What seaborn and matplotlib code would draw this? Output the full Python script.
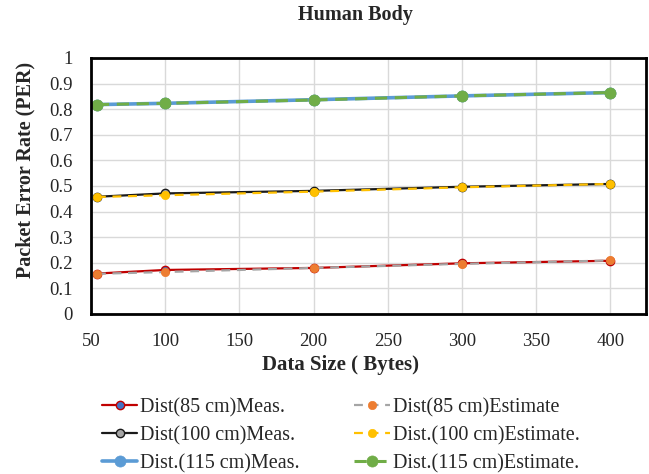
import matplotlib
matplotlib.use("Agg")
import matplotlib.pyplot as plt
import seaborn as sns
import pandas as pd

sns.set_theme(style="white")
plt.rcParams['font.family'] = ['Liberation Serif', 'DejaVu Serif']

data_size = [54, 100, 200, 300, 400]
meas_85 = [0.158, 0.172, 0.180, 0.198, 0.208]
est_85 = [0.157, 0.164, 0.180, 0.196, 0.209]
meas_100 = [0.458, 0.471, 0.481, 0.497, 0.508]
est_100 = [0.457, 0.464, 0.478, 0.495, 0.508]
meas_115 = [0.818, 0.823, 0.837, 0.852, 0.865]
est_115 = [0.818, 0.823, 0.836, 0.852, 0.865]

labels = ["Dist(85 cm)Meas.", "Dist(85 cm)Estimate",
          "Dist(100 cm)Meas.", "Dist.(100 cm)Estimate.",
          "Dist.(115 cm)Meas.", "Dist.(115 cm)Estimate."]
x_ticks = [50, 100, 150, 200, 250, 300, 350, 400]
y_ticks = [0, 0.1, 0.2, 0.3, 0.4, 0.5, 0.6, 0.7, 0.8, 0.9, 1]

series = [meas_85, est_85, meas_100, est_100, meas_115, est_115]
styles = [
    dict(color="#C00000", linestyle="-", lw=1.6, mfc="#4472C4", mec="#C00000", ms=6, mew=1.0),
    dict(color="#A5A5A5", linestyle=(0, (4, 3)), lw=1.6, mfc="#ED7D31", mec="#ED7D31", ms=6, mew=0.5),
    dict(color="#1a1a1a", linestyle="-", lw=1.6, mfc="#A5A5A5", mec="#1a1a1a", ms=6, mew=1.0),
    dict(color="#FFC000", linestyle=(0, (4, 3)), lw=1.6, mfc="#FFC000", mec="#FFC000", ms=6, mew=0.5),
    dict(color="#5B9BD5", linestyle="-", lw=2.6, mfc="#5B9BD5", mec="#5B9BD5", ms=8, mew=0.5),
    dict(color="#70AD47", linestyle=(0, (4, 2.5)), lw=2.2, mfc="#70AD47", mec="#70AD47", ms=8, mew=0.5),
]

fig = plt.figure(figsize=(6.49, 4.74), dpi=100)
ax = fig.add_axes([91/649, 1 - 314/474, 555/649, 256/474])

for vals, lab, st in zip(series, labels, styles):
    df = pd.DataFrame({"x": data_size, "y": vals})
    sns.lineplot(data=df, x="x", y="y", ax=ax, color=st["color"], linestyle=st["linestyle"],
                 linewidth=st["lw"], marker="o", markersize=st["ms"],
                 markerfacecolor=st["mfc"], markeredgecolor=st["mec"], markeredgewidth=st["mew"],
                 label=lab)

ax.set_xlim(50, 424)
ax.set_ylim(0, 1)
ax.set_xticks(x_ticks)
ax.set_yticks(y_ticks)
ax.set_xticklabels([str(t) for t in x_ticks], fontsize=13.5)
ax.set_yticklabels(["0" if t == 0 else ("1" if t == 1 else f"{t:.1f}") for t in y_ticks], fontsize=13.5)
ax.grid(True, color="#d9d9d9", linewidth=1.0)
ax.set_axisbelow(True)
for sp in ax.spines.values():
    sp.set_color("black")
    sp.set_linewidth(2.0)
ax.tick_params(axis="x", length=0, pad=14)
ax.tick_params(axis="y", length=0, pad=13)
ax.set_xlabel("")
ax.set_ylabel("")

fig.text(340/649, 1 - 365/474, "Data Size ( Bytes)", ha="center", va="center",
         fontsize=15, fontweight="bold")
fig.text(25/649, 1 - 170/474, "Packet Error Rate (PER)", ha="center", va="center",
         rotation=90, fontsize=14.5, fontweight="bold")
fig.text(355/649, 1 - 15/474, "Human Body", ha="center", va="center",
         fontsize=14.5, fontweight="bold")

handles, labs = ax.get_legend_handles_labels()
order = [0, 2, 4, 1, 3, 5]
ax.legend([handles[i] for i in order], [labs[i] for i in order], ncol=2,
          loc="upper left", bbox_to_anchor=(102/649, 1 - 398/474),
          bbox_transform=fig.transFigure, frameon=False, borderpad=0, borderaxespad=0,
          fontsize=14.5, handlelength=1.75, columnspacing=2.7, labelspacing=0.43,
          handletextpad=0.15)

fig.savefig("out.png", dpi=100)
